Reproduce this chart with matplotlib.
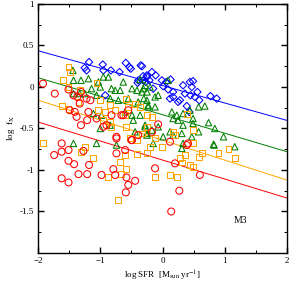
import matplotlib
matplotlib.use("Agg")
import matplotlib.pyplot as plt
import numpy as np
from matplotlib.ticker import MultipleLocator

plt.rcParams['font.family'] = ['Liberation Serif', 'DejaVu Serif']
plt.rcParams['mathtext.fontset'] = 'stix'

# blue diamonds
blue_x = [-1.18, -1.25, -1.22, -0.96, -0.95, -0.83, -0.69, -0.59, -0.53, -0.51, -0.35, -0.39,
          -0.31, -0.25, -0.40, -0.27, -0.92, -0.33, -0.25, -0.17, -0.11, -0.31, -0.01, 0.06,
          0.13, -0.15, 0.01, 0.09, 0.17, 0.33, 0.44, 0.49, 0.47, 0.36, 0.45, 0.52, 0.56, 0.59,
          0.12, 0.17, 0.25, 0.28, 0.77, 0.87, 0.39, 0.43, -0.21]
blue_y = [0.30, 0.23, 0.20, 0.27, 0.20, 0.20, 0.18, 0.29, 0.24, 0.22, 0.26, 0.08,
          0.13, 0.12, 0.05, 0.06, -0.10, 0.25, 0.14, 0.18, 0.14, 0.08, 0.08, 0.06,
          0.09, -0.02, 0.01, -0.03, -0.06, 0.02, 0.06, 0.07, 0.00, -0.08, -0.10, -0.12, -0.06, -0.16,
          -0.14, -0.12, -0.18, -0.16, -0.11, -0.14, -0.23, -0.30, 0.08]

# green triangles
green_x = [-1.44, -1.43, -1.31, -1.19, -1.03, -0.95, -0.87, -1.14, -1.00, -0.82, -0.76, -0.63,
           -0.49, -0.41, -0.31, -0.68, -1.43, -1.33, -1.25, -1.06, -0.84, -0.71, -0.55, -0.39,
           -0.25, -0.23, -1.11, -0.98, -0.60, -0.49, -0.47, -0.36, -1.00, -0.84, -0.28, -0.44,
           -0.25, -1.43, -1.06, -0.74, -0.36, -0.28, -0.20, -0.33, -0.25, -0.12, -0.07, -0.30,
           -0.23, -0.12, 0.09, 0.15, 0.23, 0.33, 0.44, 0.58, 0.68, 0.17, 0.25, 0.49, 0.74, 0.84,
           0.33, 0.49, 0.58, -0.28, -0.07, -0.17, 0.12, 0.17, 0.31, -0.25, 0.01, 0.47, -0.15,
           0.33, 0.82, 0.98, 1.16, 0.31, 0.83]
green_y = [0.20, 0.08, 0.08, 0.10, 0.06, 0.12, 0.12, -0.02, 0.00, -0.02, -0.04, 0.06,
           -0.02, -0.04, -0.02, -0.04, -0.08, -0.08, -0.08, -0.10, -0.14, -0.16, -0.14, -0.18,
           -0.16, -0.24, -0.32, -0.34, -0.30, -0.34, -0.40, -0.34, -0.50, -0.46, -0.46, -0.54,
           -0.56, -0.68, -0.68, -0.70, 0.09, 0.02, 0.00, -0.06, -0.06, -0.12, -0.10, -0.14,
           -0.22, -0.24, 0.08, -0.30, -0.34, -0.32, -0.28, -0.24, -0.23, -0.38, -0.40, -0.38, -0.43, -0.50,
           -0.46, -0.44, -0.54, -0.48, -0.48, -0.52, -0.54, -0.58, -0.56, -0.58, -0.60, -0.60, -0.68,
           -0.68, -0.69, -0.60, -0.72, -0.74, -0.70]

# orange squares
orange_x = [-1.51, -1.49, -1.60, -1.51, -1.62, -1.51, -1.06, -1.33, -1.35, -1.00, -0.84, -1.03,
            -0.92, -0.76, -0.58, -0.55, -0.44, -0.36, -0.60, -0.84, -0.95, -0.82, -0.58, -0.25,
            -0.25, -0.41, -0.52, -1.92, -1.25, -1.31, -1.12, -0.60, -0.68, -0.59, -0.66, -0.87,
            -0.41, -0.71, -0.01, -0.12, 0.12, 0.24, 0.28, 0.31, 0.36, 0.44, 0.49, 0.59, 0.63,
            0.90, 1.06, 1.16, -0.17, -0.33, -0.12, -0.20, 0.17, 0.20, 0.49, 0.39, 0.49, -0.25]
orange_y = [0.24, 0.18, 0.08, 0.00, -0.23, -0.26, 0.05, -0.04, -0.18, -0.16, -0.22, -0.28,
            -0.30, -0.28, -0.14, -0.24, -0.20, -0.24, -0.34, -0.42, -0.40, -0.48, -0.48, -0.34,
            -0.48, -0.64, -0.62, -0.68, -0.72, -0.78, -0.86, -0.82, -0.90, -0.99, -1.05, -1.08,
            -0.81, -1.36, -0.72, -1.08, -1.06, -1.08, -0.86, -0.91, -0.82, -0.94, -0.96, -0.84, -0.80,
            -0.79, -0.75, -0.86, -0.36, -0.56, -0.61, -0.72, -0.54, -0.58, -0.52, -0.33, -0.68, -0.80]

# red circles
red_x = [-1.92, -1.73, -1.51, -1.43, -1.31, -1.37, -1.22, -1.16, -1.33, -1.49, -1.41, -1.19,
         -1.21, -1.38, -1.31, -1.06, -0.90, -0.95, -0.82, -0.66, -0.55, -0.74, -0.49, -0.60,
         -1.62, -1.74, -1.62, -1.51, -1.27, -1.51, -1.42, -1.18, -0.74, -0.79, -0.76, -0.98,
         -1.21, -1.35, -1.62, -1.51, -0.58, -0.55, -0.44, -0.59, -0.12, 0.20, 0.60, 0.27,
         0.14, 0.12, 0.41, 0.39, -0.07, -0.17, -0.63, -0.39, -0.50, -0.74]
red_y = [0.04, -0.08, -0.03, -0.10, -0.06, -0.12, -0.14, -0.16, -0.20, -0.28, -0.30, -0.30,
         -0.40, -0.36, -0.46, -0.38, -0.46, -0.48, -0.34, -0.34, -0.28, -0.60, -0.64, -0.76,
         -0.68, -0.82, -0.78, -0.76, -0.77, -0.89, -0.93, -0.94, -0.80, -0.99, -1.06, -1.06,
         -1.05, -1.05, -1.10, -1.15, -1.09, -1.18, -1.13, -1.27, -0.98, -0.92, -1.06, -1.25,
         -1.50, -0.66, -0.68, -0.70, -0.45, -0.54, -0.34, -0.58, -0.64, -0.62]

# fitted lines: slope, intercept
fit_slope = [-0.21, -0.223, -0.241, -0.229]
fit_icpt = [0.017, -0.334, -0.64, -0.88]
fit_colors = ['#0000ff', '#008000', '#ffa500', '#ff0000']

fig = plt.figure(figsize=(2.91, 2.83), dpi=100)
ax = fig.add_axes([0.1306, 0.106, 0.8557, 0.880])

xx = np.linspace(-2, 2, 10)
for s, b, c in zip(fit_slope, fit_icpt, fit_colors):
    ax.plot(xx, s * xx + b, color=c, lw=0.7, zorder=1)

ms = 14
ax.scatter(blue_x, blue_y, s=ms, marker='D', facecolors='none', edgecolors='#0000ff', linewidths=0.75, zorder=3)
ax.scatter(green_x, green_y, s=ms * 1.5, marker='^', facecolors='none', edgecolors='#008000', linewidths=0.75, zorder=3)
ax.scatter(orange_x, orange_y, s=ms * 1.3, marker='s', facecolors='none', edgecolors='#ffa500', linewidths=0.75, zorder=3)
ax.scatter(red_x, red_y, s=ms * 1.8, marker='o', facecolors='none', edgecolors='#ff0000', linewidths=0.75, zorder=3)

ax.set_xlim(-2, 2)
ax.set_ylim(-2, 1)
ax.xaxis.set_major_locator(MultipleLocator(1))
ax.xaxis.set_minor_locator(MultipleLocator(0.5))
ax.set_yticks([-1.5, -1, -0.5, 0, 0.5, 1])
ax.yaxis.set_minor_locator(MultipleLocator(0.25))
ax.set_yticklabels(['-1.5', '-1', '-0.5', '0', '0.5', '1'])
ax.tick_params(which='both', direction='in', top=True, right=True, labelsize=6.5, pad=3)
ax.tick_params(which='major', length=4.5, width=1.0)
ax.tick_params(which='minor', length=2.5, width=0.7)
for sp in ax.spines.values():
    sp.set_linewidth(1.0)

ax.text(1.25, -1.61, 'M3', fontsize=7, ha='center', va='center')
ax.set_xlabel(r'log SFR  [M$_{\mathrm{sun}}$ yr$^{-1}$]', fontsize=6.5, labelpad=3)
ax.set_ylabel(r'log  f$_{\mathrm{X}}$', fontsize=6.5, labelpad=2)

fig.savefig('out.png', dpi=100)
